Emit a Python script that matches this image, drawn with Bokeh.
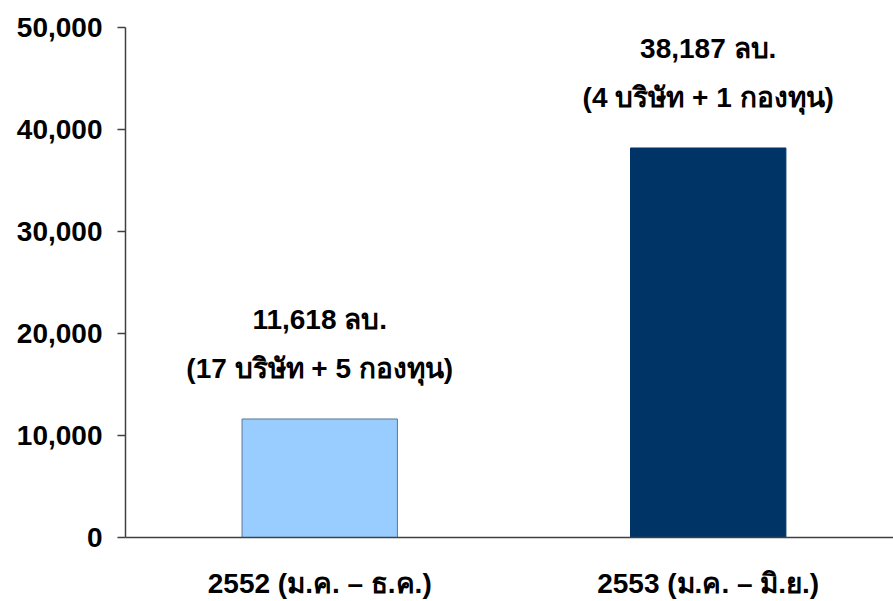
from bokeh.plotting import figure
from bokeh.models import Range1d, FixedTicker, NumeralTickFormatter, ColumnDataSource
from bokeh.core.properties import value
from bokeh.embed import file_html
from bokeh.resources import INLINE

# Data
categories = ["2552 (ม.ค. – ธ.ค.)", "2553 (ม.ค. – มิ.ย.)"]
amounts = [11618, 38187]
companies = [17, 4]
funds = [5, 1]
bar_colors = ["#99CCFF", "#003366"]
bar_lines = ["#5A7896", "#003366"]
y_ticks = [0, 10000, 20000, 30000, 40000, 50000]

FONT = "Liberation Sans"
FS = "28px"

xs = [i + 0.5 for i in range(len(categories))]
line1 = [f"{a:,} ลบ." for a in amounts]
line2 = [f"({c} บริษัท + {f} กองทุน)" for c, f in zip(companies, funds)]

src = ColumnDataSource(dict(x=xs, top=amounts, color=bar_colors, lc=bar_lines,
                            l1=line1, l2=line2))

p = figure(width=893, height=601, output_backend="svg", toolbar_location=None,
           x_range=Range1d(0, 1.977), y_range=Range1d(0, 50000),
           min_border_left=125, min_border_right=0, min_border_top=27,
           min_border_bottom=60)
p.outline_line_color = None
p.xgrid.visible = False
p.ygrid.visible = False
p.background_fill_color = "white"
p.border_fill_color = "white"

p.vbar(x="x", top="top", bottom=0, width=0.40, fill_color="color",
       line_color="lc", line_width=1, source=src)

p.text(x="x", y="top", text="l1", source=src, y_offset=-99,
       text_align="center", text_baseline="alphabetic",
       text_font=value(FONT), text_font_style="bold", text_font_size=FS,
       text_color="black")
p.text(x="x", y="top", text="l2", source=src, y_offset=-50,
       text_align="center", text_baseline="alphabetic",
       text_font=value(FONT), text_font_style="bold", text_font_size=FS,
       text_color="black")

# Y axis
ya = p.yaxis[0]
ya.ticker = FixedTicker(ticks=y_ticks)
ya.formatter = NumeralTickFormatter(format="0,0")
ya.major_tick_out = 8
ya.major_tick_in = 0
ya.minor_tick_out = 0
ya.minor_tick_in = 0
ya.axis_line_color = "#404040"
ya.axis_line_width = 1.5
ya.major_tick_line_color = "#404040"
ya.major_tick_line_width = 1.5
ya.major_label_text_font = FONT
ya.major_label_text_font_style = "bold"
ya.major_label_text_font_size = FS
ya.major_label_text_color = "black"
ya.major_label_standoff = 15

# X axis
xa = p.xaxis[0]
xa.ticker = FixedTicker(ticks=xs)
xa.major_label_overrides = {x: c for x, c in zip(xs, categories)}
xa.major_tick_out = 0
xa.major_tick_in = 0
xa.minor_tick_out = 0
xa.minor_tick_in = 0
xa.axis_line_color = "#404040"
xa.axis_line_width = 1.5
xa.major_label_text_font = FONT
xa.major_label_text_font_style = "bold"
xa.major_label_text_font_size = FS
xa.major_label_text_color = "black"
xa.major_label_standoff = 30

open("out.html", "w").write(file_html(p, INLINE))
